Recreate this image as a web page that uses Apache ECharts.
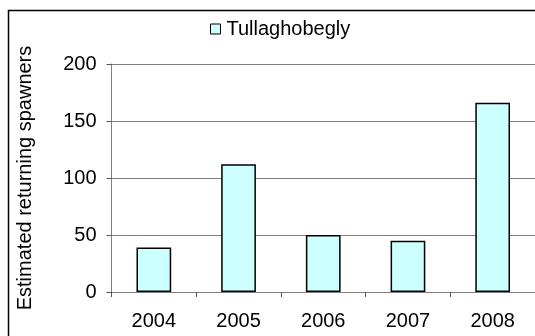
<!DOCTYPE html>
<html>
<head>
<meta charset="utf-8">
<title>Tullaghobegly spawners</title>
<script src="https://cdn.jsdelivr.net/npm/echarts@6/dist/echarts.min.js"></script>
<style>
  html, body { margin: 0; padding: 0; background: #fff; overflow: hidden; }
  #chart { width: 535px; height: 336px; }
</style>
</head>
<body>
<div id="chart"></div>
<script>
// Estimated returning spawners per year
const years = ['2004', '2005', '2006', '2007', '2008'];
const spawners = [39, 112, 50, 45, 166];
const seriesName = 'Tullaghobegly';
const yTicks = { min: 0, max: 200, interval: 50 };
const yAxisTitle = 'Estimated returning spawners';

const FONT = '"Liberation Sans", Arial, sans-serif';
const chart = echarts.init(document.getElementById('chart'), null, { renderer: 'canvas' });

chart.setOption({
  animation: false,
  backgroundColor: '#ffffff',
  textStyle: { fontFamily: FONT, color: '#000' },
  graphic: [{
    type: 'rect',
    silent: true,
    shape: { x: 8.5, y: 10.5, width: 700, height: 500 },
    style: { fill: null, stroke: '#000', lineWidth: 1.5 }
  }],
  legend: {
    left: 205,
    top: 14,
    itemWidth: 10,
    itemHeight: 10,
    icon: 'rect',
    data: [seriesName],
    textStyle: { fontFamily: FONT, fontSize: 20, color: '#000', padding: [0, 0, 0, 1] },
    itemStyle: { borderColor: '#000', borderWidth: 1 }
  },
  grid: { left: 111.5, top: 64, width: 436, height: 228 },
  xAxis: {
    type: 'category',
    data: years,
    axisLine: { show: true, lineStyle: { color: '#7f7f7f', width: 1 } },
    axisTick: { show: true, alignWithLabel: false, length: 5, lineStyle: { color: '#555' } },
    axisLabel: { fontFamily: FONT, fontSize: 20, color: '#000', margin: 19 },
    splitLine: { show: false }
  },
  yAxis: {
    type: 'value',
    min: yTicks.min,
    max: yTicks.max,
    interval: yTicks.interval,
    name: yAxisTitle,
    nameLocation: 'middle',
    nameGap: 76,
    nameTextStyle: { fontFamily: FONT, fontSize: 20, color: '#000' },
    axisLine: { show: true, lineStyle: { color: '#7f7f7f', width: 1 } },
    axisTick: { show: true, length: 5, lineStyle: { color: '#555' } },
    axisLabel: { fontFamily: FONT, fontSize: 20, color: '#000', margin: 15 },
    splitLine: { show: true, lineStyle: { color: '#7f7f7f', width: 1 } }
  },
  series: [{
    name: seriesName,
    type: 'bar',
    data: spawners,
    barCategoryGap: '59%',
    itemStyle: { color: '#ccffff', borderColor: '#000', borderWidth: 1.5 }
  }]
});
</script>
</body>
</html>
